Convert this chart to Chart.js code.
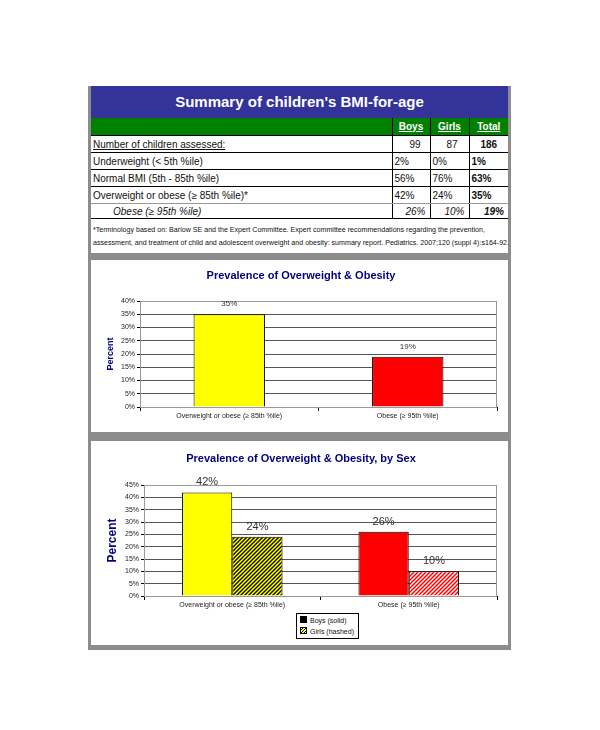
<!DOCTYPE html>
<html>
<head>
<meta charset="utf-8">
<script src="https://cdn.jsdelivr.net/npm/chart.js@4"></script>
<style>
body { margin: 0; background: #fff; font-family: "Liberation Sans", Arial, sans-serif; }
#frame { position: absolute; left: 88px; top: 86px; width: 423px; height: 564px; background: #8c8c8c; }
.box { position: absolute; left: 91px; width: 417px; background: #fff; }
#sheet { top: 86px; height: 167px; }
#hdr { height: 32px; background: #333399; color: #fff; font-weight: bold; font-size: 15px; text-align: center; line-height: 32px; }
table { border-collapse: collapse; width: 417px; table-layout: fixed; font-size: 10px; color: #111; }
td { padding: 0 2px; height: 16px; border-bottom: 1px solid #000; white-space: nowrap; overflow: hidden; }
td.n { border-left: 1px solid #000; }
tr.head td { background: #008000; color: #fff; font-weight: bold; text-decoration: underline; text-align: center; height: 17px; }
tr.grayline td { border-bottom: 1px solid #999; }
tr.ob td { font-style: italic; text-align: right; padding-right: 4px; height: 14px; }
tr.ob td.lbl { text-align: left; padding-left: 22px; }
td.tot { font-weight: bold; }
#note { font-size: 7.1px; line-height: 13px; padding: 5px 2px 0 2px; color: #111; white-space: nowrap; }
#c1box { top: 260px; height: 172px; }
#c2box { top: 441px; height: 204px; }
#legend { position: absolute; left: 205px; top: 172px; width: 58px; height: 23px; border: 1px solid #000; font-size: 7px; color: #111; padding: 1px 0 0 3px; line-height: 11px; background: #fff; }
#legend span.sw { display: inline-block; width: 5px; height: 5px; margin-right: 3px; vertical-align: 0px; border: 0.5px solid #000; }
</style>
</head>
<body>
<div id="frame"></div>
<div class="box" id="sheet">
  <div id="hdr">Summary of children's BMI-for-age</div>
  <table id="tbl"></table>
  <div id="note">*Terminology based on: Barlow SE and the Expert Committee. Expert committee recommendations regarding the prevention,<br>assessment, and treatment of child and adolescent overweight and obesity: summary report. Pediatrics. 2007;120 (suppl 4):s164-92.</div>
</div>
<div class="box" id="c1box"><canvas id="chart1"></canvas></div>
<div class="box" id="c2box"><canvas id="chart2"></canvas><div id="legend"></div></div>

<script>
// table data
var rowLabels = ['Underweight (< 5th %ile)', 'Normal BMI (5th - 85th %ile)', 'Overweight or obese (\u2265 85th %ile)*', 'Obese (\u2265 95th %ile)'];
var boysPct = [2, 56, 42, 26];
var girlsPct = [0, 76, 24, 10];
var totalPct = [1, 63, 35, 19];
var counts = [99, 87, 186]; // boys, girls, total

// chart data
var categories = ['Overweight or obese (\u2265 85th %ile)', 'Obese (\u2265 95th %ile)'];
var totalValues = [35, 19];
var boysValues = [42, 26];
var girlsValues = [24, 10];
var seriesLabels = ['Boys (solid)', 'Girls (hashed)'];

// build the table
var html = '<colgroup><col style="width:301px"><col style="width:38px"><col style="width:39px"><col style="width:39px"></colgroup>';
html += '<tr class="head"><td></td><td class="n">Boys</td><td class="n">Girls</td><td class="n">Total</td></tr>';
html += '<tr><td style="text-decoration:underline">Number of children assessed:</td>' +
  '<td class="n" style="text-align:right;padding-right:9px">' + counts[0] + '</td>' +
  '<td class="n" style="text-align:right;padding-right:11px">' + counts[1] + '</td>' +
  '<td class="n tot" style="text-align:center">' + counts[2] + '</td></tr>';
for (var i = 0; i < rowLabels.length; i++) {
  var cls = '';
  if (i == 2) cls = 'grayline';
  if (i == 3) cls = 'ob';
  html += '<tr class="' + cls + '"><td class="lbl">' + rowLabels[i].replace('<', '&lt;') + '</td>' +
    '<td class="n">' + boysPct[i] + '%</td>' +
    '<td class="n">' + girlsPct[i] + '%</td>' +
    '<td class="n tot">' + totalPct[i] + '%</td></tr>';
}
document.getElementById('tbl').innerHTML = html;

function hatch(ctx, bg, fg) {
  var c = document.createElement('canvas');
  c.width = 4; c.height = 4;
  var x = c.getContext('2d');
  x.fillStyle = bg;
  x.fillRect(0, 0, 4, 4);
  x.strokeStyle = fg;
  x.lineWidth = 1.3;
  x.beginPath();
  x.moveTo(0, 4); x.lineTo(4, 0);
  x.moveTo(-1, 1); x.lineTo(1, -1);
  x.moveTo(3, 5); x.lineTo(5, 3);
  x.stroke();
  return ctx.createPattern(c, 'repeat');
}

// value labels above the bars
var valueLabels = {
  id: 'valueLabels',
  afterDatasetsDraw: function(chart, args, opts) {
    var ctx = chart.ctx;
    ctx.save();
    ctx.font = opts.size + 'px "Liberation Sans", Arial';
    ctx.fillStyle = '#333';
    ctx.textAlign = 'center';
    ctx.textBaseline = 'middle';
    chart.data.datasets.forEach(function(ds, di) {
      chart.getDatasetMeta(di).data.forEach(function(bar, j) {
        ctx.fillText(ds.data[j] + '%', bar.x, bar.y - opts.offset);
      });
    });
    ctx.restore();
  }
};

// gray top/right border of plot area
var plotBorder = {
  id: 'plotBorder',
  beforeDatasetsDraw: function(chart) {
    var a = chart.chartArea, ctx = chart.ctx;
    ctx.save();
    ctx.strokeStyle = '#999';
    ctx.lineWidth = 1;
    ctx.strokeRect(a.left + 0.5, a.top + 0.5, a.right - a.left - 1, a.bottom - a.top);
    ctx.restore();
  }
};

function makeOptions(o) {
  return {
    responsive: true,
    maintainAspectRatio: false,
    animation: false,
    layout: { padding: { left: 14, right: 11, top: 0, bottom: o.bottomPad } },
    plugins: {
      legend: { display: false },
      tooltip: { enabled: false },
      title: {
        display: true,
        text: o.title,
        color: '#000080',
        font: { family: '"Liberation Sans", Arial', size: 11, weight: 'bold' },
        padding: { top: o.titleTop, bottom: o.titleBottom }
      },
      valueLabels: { size: o.labelSize, offset: o.labelOffset }
    },
    scales: {
      x: {
        offset: true,
        grid: { offset: true, drawOnChartArea: false, drawTicks: true, tickLength: 4, color: '#000' },
        border: { color: '#000' },
        ticks: { color: '#222', padding: 1, maxRotation: 0, font: { family: '"Liberation Sans", Arial', size: 7 } },
        afterFit: function(s) { s.height = o.xHeight; }
      },
      y: {
        min: 0,
        max: o.yMax,
        grid: { color: '#555', tickLength: 3, tickColor: '#000' },
        border: { color: '#000' },
        ticks: {
          stepSize: 5,
          padding: 2,
          color: '#222',
          font: { family: '"Liberation Sans", Arial', size: 7 },
          callback: function(v) { return v + '%'; }
        },
        title: {
          display: true,
          text: 'Percent',
          color: '#000080',
          padding: 0,
          font: { family: '"Liberation Sans", Arial', size: o.yTitleSize, weight: 'bold' }
        },
        afterFit: function(s) { s.width = o.yWidth; }
      }
    }
  };
}

var ctx1 = document.getElementById('chart1').getContext('2d');
new Chart(ctx1, {
  type: 'bar',
  data: {
    labels: categories,
    datasets: [{
      label: 'Total',
      data: totalValues,
      backgroundColor: ['#ffff00', '#ff0000'],
      borderColor: '#000',
      borderWidth: 1,
      barPercentage: 0.4,
      categoryPercentage: 1
    }]
  },
  options: makeOptions({ title: 'Prevalence of Overweight & Obesity', titleTop: 9, titleBottom: 18.8, bottomPad: 0, xHeight: 25,
    yMax: 40, yWidth: 35, yTitleSize: 9, labelSize: 8, labelOffset: 10 }),
  plugins: [valueLabels, plotBorder]
});

var ctx2 = document.getElementById('chart2').getContext('2d');
new Chart(ctx2, {
  type: 'bar',
  data: {
    labels: categories,
    datasets: [{
      label: seriesLabels[0],
      data: boysValues,
      backgroundColor: ['#ffff00', '#ff0000'],
      borderColor: '#000',
      borderWidth: 1,
      barPercentage: 1,
      categoryPercentage: 0.57
    }, {
      label: seriesLabels[1],
      data: girlsValues,
      backgroundColor: [hatch(ctx2, '#ffff00', '#000'), hatch(ctx2, '#ff0000', '#fff')],
      borderColor: '#000',
      borderWidth: 1,
      barPercentage: 1,
      categoryPercentage: 0.57
    }]
  },
  options: makeOptions({ title: 'Prevalence of Overweight & Obesity, by Sex', titleTop: 11.4, titleBottom: 19.4, bottomPad: 29, xHeight: 20,
    yMax: 45, yWidth: 39, yTitleSize: 12, labelSize: 11, labelOffset: 10 }),
  plugins: [valueLabels, plotBorder]
});

// legend box
var swatches = ['background:#000', 'background:repeating-linear-gradient(135deg,#ffff00 0 1px,#000 1px 2px)'];
var lg = '';
for (var k = 0; k < seriesLabels.length; k++) {
  lg += '<div><span class="sw" style="' + swatches[k] + '"></span>' + seriesLabels[k] + '</div>';
}
document.getElementById('legend').innerHTML = lg;
</script>
</body>
</html>
